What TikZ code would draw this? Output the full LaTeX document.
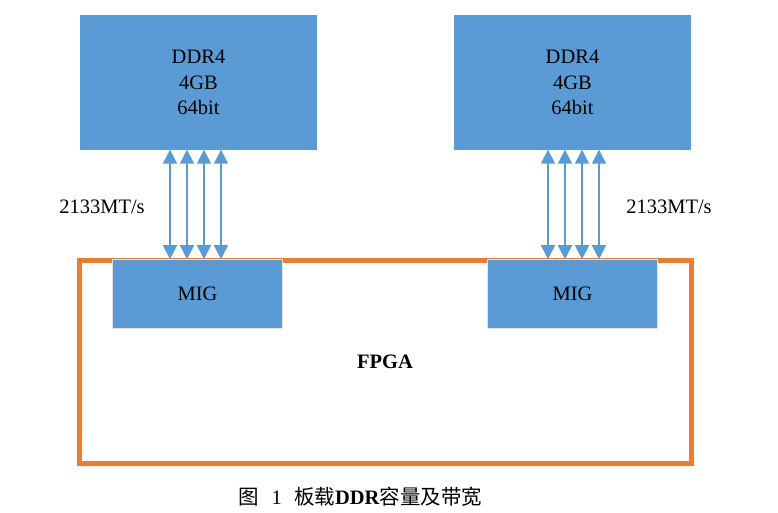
\documentclass[tikz,border=0pt]{standalone}
\usepackage{fontspec}
\setmainfont{Liberation Serif}
\newfontfamily\cjk{Noto Sans CJK SC}
\usepackage{xcolor}
\usetikzlibrary{positioning, arrows.meta}

\definecolor{bausteinblau}{HTML}{5B9BD5}
\definecolor{fpgaorange}{HTML}{ED7D31}

\begin{document}
\begin{tikzpicture}[
  x=1pt, y=-1pt,
  every node/.style = {font=\fontsize{20.5}{25.5}\selectfont},
  ddr/.style = {fill=bausteinblau, align=center, minimum width=237pt, minimum height=135pt, inner sep=0pt},
  mig/.style = {fill=bausteinblau, draw=gray!20, line width=0.6pt, minimum width=170pt, minimum height=69pt, inner sep=0pt},
  fpgabox/.style = {draw=fpgaorange, line width=5pt, minimum width=612pt, minimum height=203pt, inner sep=0pt, font=\fontsize{20.5}{25.5}\selectfont\bfseries},
  bus/.style = {{Triangle[width=14pt, length=14pt]}-{Triangle[width=14pt, length=14pt]}, draw=bausteinblau, line width=1.8pt, shorten <=-0.5pt, shorten >=-0.5pt},
]
\useasboundingbox (0,0) rectangle (778,513);
\node[ddr] (ddrA) at (198.5,82.5) {DDR4\\4GB\\64bit};
\node[ddr] (ddrB) at (572.5,82.5) {DDR4\\4GB\\64bit};
\node[fpgabox] (fpga) at (385,361.5) {FPGA};
\node[mig] (migA) at (197.5,293.5) {MIG};
\node[mig] (migB) at (572.5,293.5) {MIG};
\node (rateA) at (102,207) {2133MT/s};
\node (rateB) at (669,207) {2133MT/s};
% DDR <-> MIG Leitungen
\foreach \dx in {-28.5,-11.5,5.5,22.5}
  \draw[bus] ([xshift=\dx pt]ddrA.south) -- ([xshift=\dx pt]ddrA.south |- migA.north);
\foreach \dx in {-24.5,-7.5,9.5,26.5}
  \draw[bus] ([xshift=\dx pt]ddrB.south) -- ([xshift=\dx pt]ddrB.south |- migB.north);
\node (caption) at (360.5,497) {{\cjk 图}\hspace{0.6em}1\hspace{0.6em}{\cjk 板载}\textbf{DDR}{\cjk 容量及带宽}};
\end{tikzpicture}
\end{document}
